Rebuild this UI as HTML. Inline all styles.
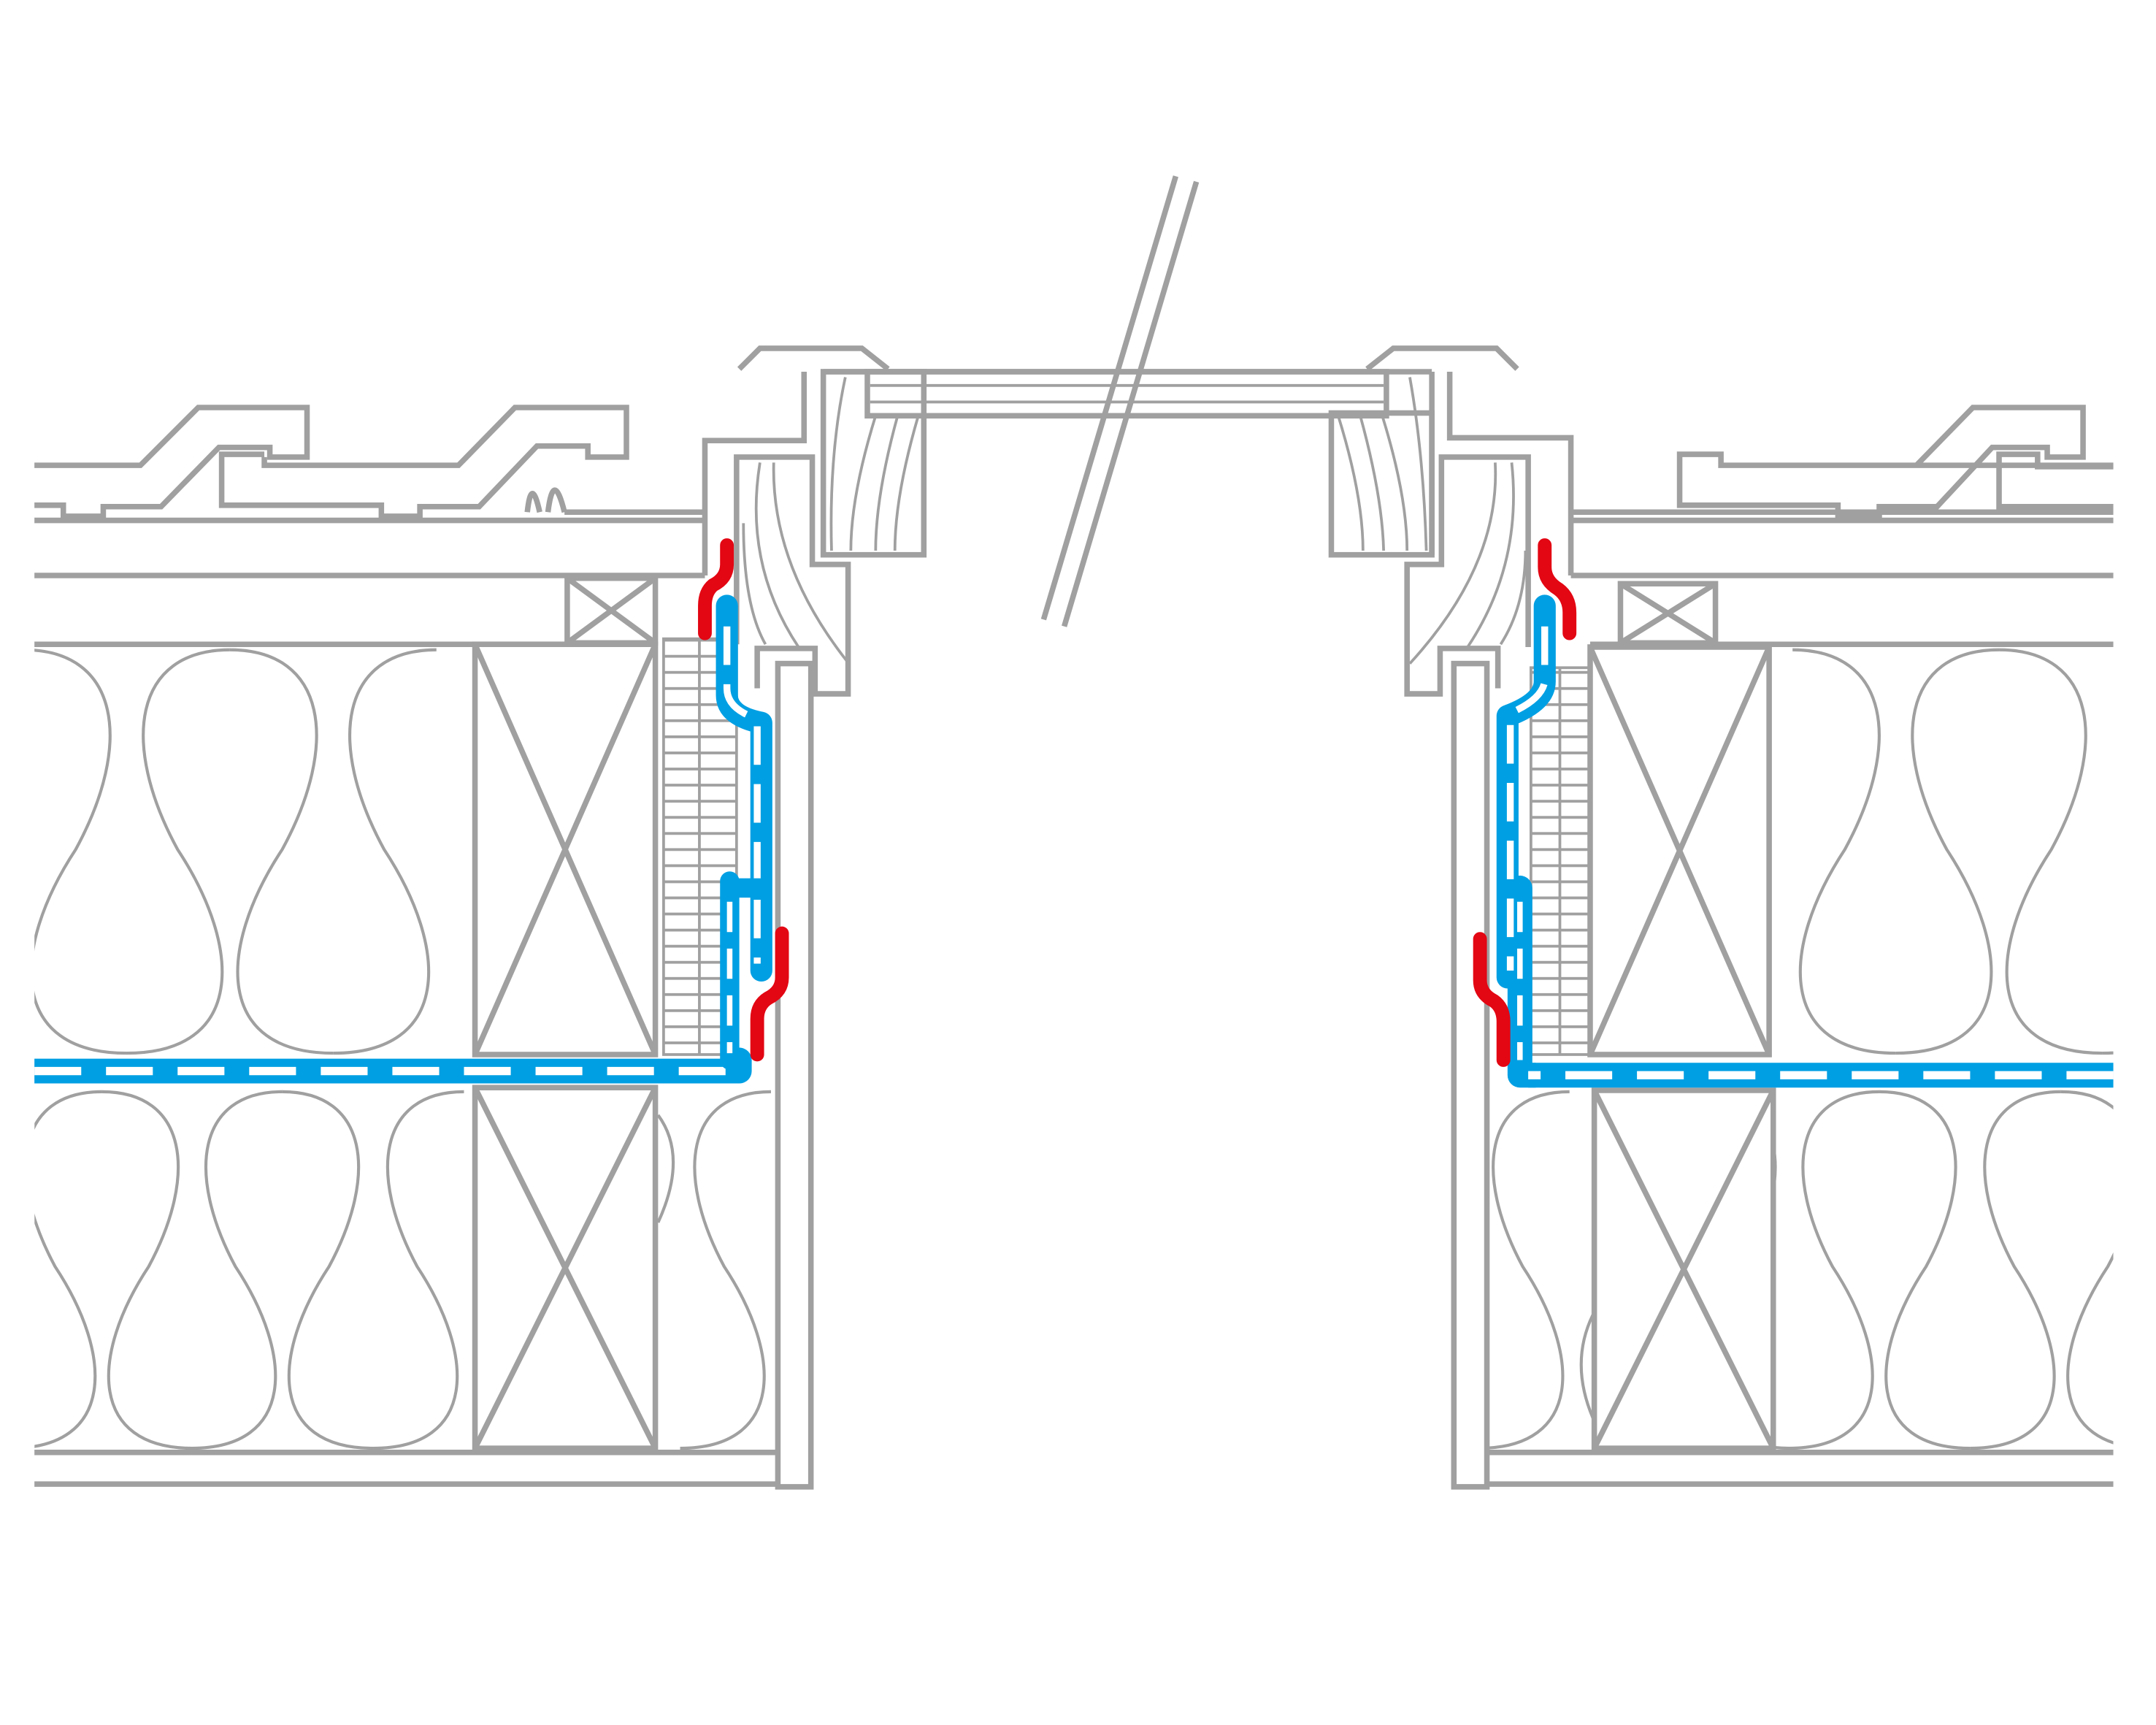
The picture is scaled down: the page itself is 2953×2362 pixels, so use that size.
<!DOCTYPE html>
<html><head><meta charset="utf-8"><style>html,body{margin:0;padding:0;background:#fff}svg{display:block}</style></head>
<body>
<svg width="2953" height="2362" viewBox="0 0 1566 1253" preserveAspectRatio="none" xmlns="http://www.w3.org/2000/svg">
<defs>
<pattern id="hatch" patternUnits="userSpaceOnUse" x="0" y="464" width="60" height="11.7"><line x1="0" y1="1" x2="60" y2="1" stroke="#a0a0a0" stroke-width="2"/></pattern>
<path id="u1L" fill="none" stroke="#a0a0a0" stroke-width="2.2" d="M0,472 C-70,472 -80,540 -38,617 C10,690 10,765 -75,765"/>
<path id="u1R" fill="none" stroke="#a0a0a0" stroke-width="2.2" d="M0,472 C70,472 80,540 38,617 C-10,690 -10,765 75,765"/>
<path id="u2L" fill="none" stroke="#a0a0a0" stroke-width="2.2" d="M0,793 C-62,793 -70,853 -34,920 C9,985 9,1052 -66,1052"/>
<path id="u2R" fill="none" stroke="#a0a0a0" stroke-width="2.2" d="M0,793 C62,793 70,853 34,920 C-9,985 -9,1052 66,1052"/>
<clipPath id="cL1"><rect x="25" y="466" width="320" height="302"/></clipPath>
<clipPath id="cL2"><rect x="25" y="790" width="320" height="265"/><rect x="476" y="790" width="89" height="265"/></clipPath>
<clipPath id="cR1"><rect x="1285" y="466" width="250" height="302"/></clipPath>
<clipPath id="cR2"><rect x="1080" y="790" width="78" height="265"/><rect x="1288" y="790" width="247" height="265"/></clipPath>
</defs>
<rect width="1566" height="1253" fill="#fff"/>

<g clip-path="url(#cL1)"><use href="#u1L" x="17"/><use href="#u1R" x="17"/><use href="#u1L" x="167"/><use href="#u1R" x="167"/><use href="#u1L" x="317"/></g>
<g clip-path="url(#cL2)"><use href="#u2R" x="-57"/><use href="#u2L" x="74"/><use href="#u2R" x="74"/><use href="#u2L" x="205"/><use href="#u2R" x="205"/><use href="#u2L" x="337"/><use href="#u2L" x="560"/></g>
<path d="M478,810 Q500,840 478,888" fill="none" stroke="#a0a0a0" stroke-width="2.2"/>
<g clip-path="url(#cR1)"><use href="#u1R" x="1302"/><use href="#u1L" x="1452"/><use href="#u1R" x="1452"/><use href="#u1L" x="1602"/></g>
<g clip-path="url(#cR2)"><use href="#u2L" x="1140"/><use href="#u2R" x="1234"/><use href="#u2L" x="1365"/><use href="#u2R" x="1365"/><use href="#u2L" x="1497"/><use href="#u2R" x="1497"/><use href="#u2L" x="1628"/></g>
<path d="M1157,955 Q1140,990 1157,1030" fill="none" stroke="#a0a0a0" stroke-width="2.2"/>

<g fill="none" stroke="#a0a0a0" stroke-width="4">
<polyline points="25,338 102,338 144,296 223,296 223,332 196,332 196,325 159,325 117,368 75,368 75,375 46,375 46,367 25,367"/>
<polyline points="192,332 192,338 333,338 374,296 455,296 455,332 427,332 427,324 390,324 348,368 305,368 305,375 277,375 277,367 161,367 161,330 192,330"/>
<path d="M383,372 Q386,345 392,372 M398,372 Q402,340 410,372"/>
<line x1="410" y1="372" x2="512" y2="372"/>
<line x1="25" y1="378" x2="512" y2="378"/>
<line x1="25" y1="418" x2="512" y2="418"/>
<polyline points="512,418 512,320 584,320 584,270"/>
<line x1="25" y1="468" x2="476" y2="468"/>
<rect x="412" y="420" width="64" height="47"/>
<path d="M412,420 L476,467 M476,420 L412,467"/>
<rect x="345" y="468" width="131" height="298"/>
<path d="M345,468 L476,766 M476,468 L345,766"/>
<rect x="345" y="790" width="131" height="262"/>
<path d="M345,790 L476,1052 M476,790 L345,1052"/>
<line x1="25" y1="1055" x2="565" y2="1055"/>
<line x1="25" y1="1078" x2="565" y2="1078"/>
<rect x="565" y="482" width="24" height="598"/>
<polyline points="535,468 535,332 590,332 590,410 616,410 616,504 592,504 592,471 550,471 550,500"/>
<polyline points="537,268 552,253 626,253 645,268"/>
<polyline points="598,270 1040,270"/>
<rect x="598" y="270" width="73" height="133"/>
<rect x="630" y="270" width="377" height="32"/>
<rect x="967" y="300" width="73" height="103"/>
<line x1="1040" y1="270" x2="1040" y2="403"/>
<polyline points="1535,338 1250,338 1250,330 1220,330 1220,367 1335,367 1335,375 1365,375 1365,368 1407,368 1447,325 1487,325 1487,332 1513,332 1513,296 1433,296 1392,338"/>
<polyline points="1535,339 1480,339 1480,330 1452,330 1452,368 1535,368"/>
<line x1="1141" y1="372" x2="1535" y2="372"/>
<line x1="1141" y1="378" x2="1535" y2="378"/>
<line x1="1141" y1="418" x2="1535" y2="418"/>
<polyline points="1053,270 1053,318 1141,318 1141,418"/>
<line x1="1155" y1="468" x2="1535" y2="468"/>
<rect x="1177" y="424" width="69" height="43"/>
<path d="M1177,424 L1246,467 M1246,424 L1177,467"/>
<rect x="1155" y="470" width="130" height="296"/>
<path d="M1155,766 L1285,470 M1155,470 L1285,766"/>
<rect x="1158" y="792" width="130" height="260"/>
<path d="M1158,792 L1288,1052 M1288,792 L1158,1052"/>
<line x1="1080" y1="1055" x2="1535" y2="1055"/>
<line x1="1080" y1="1078" x2="1535" y2="1078"/>
<rect x="1056" y="482" width="24" height="598"/>
<polyline points="1110,470 1110,332 1047,332 1047,410 1022,410 1022,504 1046,504 1046,471 1088,471 1088,500"/>
<polyline points="1102,268 1087,253 1012,253 993,268"/>
</g>
<rect x="482" y="464" width="53" height="302" fill="url(#hatch)" stroke="#a0a0a0" stroke-width="2"/>
<line x1="508" y1="464" x2="508" y2="766" stroke="#a0a0a0" stroke-width="2"/>
<rect x="1112" y="485" width="43" height="281" fill="url(#hatch)" stroke="#a0a0a0" stroke-width="2"/>
<line x1="1133" y1="485" x2="1133" y2="766" stroke="#a0a0a0" stroke-width="2"/>
<g fill="none" stroke="#a0a0a0" stroke-width="2">
<line x1="632" y1="280" x2="1005" y2="280"/><line x1="632" y1="292" x2="1005" y2="292"/>
<path d="M614,274 Q602,330 604,400 M636,302 Q618,360 618,400 M652,302 Q636,360 636,400 M667,302 Q650,360 650,400"/>
<path d="M1024,274 Q1034,330 1036,400 M1004,302 Q1022,360 1022,400 M988,302 Q1004,360 1005,400 M972,302 Q990,360 990,400"/>
<path d="M552,336 Q540,410 580,470 M562,336 Q560,410 615,480 M540,380 Q540,440 556,468"/>
<path d="M1098,336 Q1106,410 1066,470 M1086,336 Q1090,410 1024,482 M1108,400 Q1108,440 1090,468"/>
</g>
<g stroke="#a0a0a0" stroke-width="4" fill="none">
<line x1="854" y1="128" x2="758" y2="450"/><line x1="869" y1="132" x2="773" y2="455"/>
</g>
<g fill="none" stroke-linecap="round" stroke-linejoin="round">
<path d="M25,778 H537" stroke="#009fe3" stroke-width="18" stroke-linecap="butt"/>
<path d="M530,778 H537 V770" stroke="#009fe3" stroke-width="18"/>
<path d="M25,778 H537" stroke="#fff" stroke-width="6" stroke-dasharray="34,18" stroke-linecap="butt"/>
<path d="M528,440 V505 Q528,520 553,525 V705" stroke="#009fe3" stroke-width="16"/>
<path d="M528,455 V500 Q528,515 550,522 V700" stroke="#fff" stroke-width="5" stroke-dasharray="28,14" stroke-linecap="butt"/>
<path d="M530,640 V770 M530,645 H552" stroke="#009fe3" stroke-width="14"/>
<path d="M530,655 V765" stroke="#fff" stroke-width="4" stroke-dasharray="22,12" stroke-linecap="butt"/>
<path d="M1535,781 H1110" stroke="#009fe3" stroke-width="18" stroke-linecap="butt"/>
<path d="M1115,781 H1104 V645" stroke="#009fe3" stroke-width="18"/>
<path d="M1535,781 H1110" stroke="#fff" stroke-width="6" stroke-dasharray="34,18" stroke-linecap="butt"/>
<path d="M1122,440 V495 Q1122,510 1095,520 V710" stroke="#009fe3" stroke-width="16"/>
<path d="M1122,455 V495 Q1120,508 1097,518 V705" stroke="#fff" stroke-width="5" stroke-dasharray="28,14" stroke-linecap="butt"/>
<path d="M1104,655 V770" stroke="#fff" stroke-width="4" stroke-dasharray="22,12" stroke-linecap="butt"/>
</g>
<g fill="none" stroke="#e30613" stroke-width="10" stroke-linecap="round" stroke-linejoin="round">
<path d="M528,396 V410 Q528,420 518,425 Q512,430 512,440 V460"/>
<path d="M568,678 V710 Q568,720 558,725 Q550,730 550,740 V766"/>
<path d="M1122,396 V412 Q1122,422 1132,428 Q1140,434 1140,445 V460"/>
<path d="M1075,682 V712 Q1075,722 1085,727 Q1092,732 1092,742 V770"/>
</g>
</svg>
</body></html>
